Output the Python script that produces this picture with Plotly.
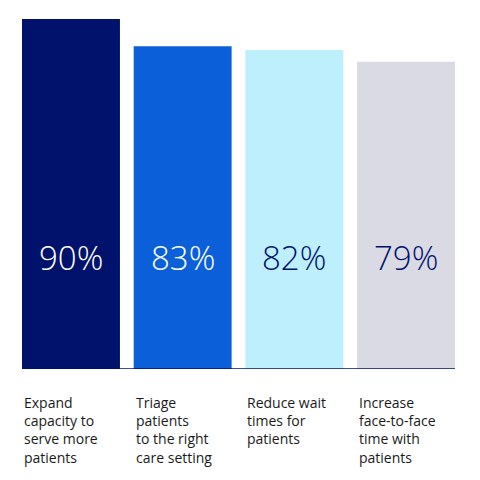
import plotly.graph_objects as go

# Data
categories = [
    "Expand<br>capacity to<br>serve more<br>patients",
    "Triage<br>patients<br>to the right<br>care setting",
    "Reduce wait<br>times for<br>patients",
    "Increase<br>face-to-face<br>time with<br>patients",
]
values = [90, 83, 82, 79]
bar_colors = ["#00126B", "#0B5FD9", "#BDEFFD", "#DADAE5"]
text_colors = ["#FFFFFF", "#FFFFFF", "#00126B", "#00126B"]

x_pos = list(range(len(values)))
bar_w = 0.877

fig = go.Figure()
fig.add_trace(go.Bar(
    x=x_pos, y=values, width=bar_w,
    marker=dict(color=bar_colors, line=dict(width=0)),
    hoverinfo="skip",
))

# value labels, all at the same height
for i, v in enumerate(values):
    fig.add_annotation(
        x=i, y=28.8, xref="x", yref="y", text=f"{v}%", showarrow=False,
        font=dict(family="Open Sans", size=33, color=text_colors[i], weight=300),
    )

# category labels under the baseline, left aligned with bars
for i, c in enumerate(categories):
    fig.add_annotation(
        x=i - bar_w / 2, y=0, xref="x", yref="y", text=c, showarrow=False,
        xanchor="left", yanchor="top", align="left", yshift=-22,
        font=dict(family="Open Sans", size=14, color="#1A1A1A"),
    )

# page body has an 8px margin, so the figure is drawn a bit smaller
fig.update_layout(
    width=472, height=472,
    margin=dict(l=14, r=25, t=11, b=111),
    plot_bgcolor="white", paper_bgcolor="white",
    showlegend=False,
    xaxis=dict(range=[-bar_w / 2, 3 + bar_w / 2], showticklabels=False,
               showgrid=False, zeroline=False, showline=False),
    yaxis=dict(range=[0, 90], showticklabels=False, showgrid=False,
               zeroline=False, showline=False),
    shapes=[dict(type="line", xref="paper", yref="y", x0=0, x1=1, y0=0, y1=0,
                 line=dict(color="#00126B", width=1.5))],
)

fig.write_html("out.html")
